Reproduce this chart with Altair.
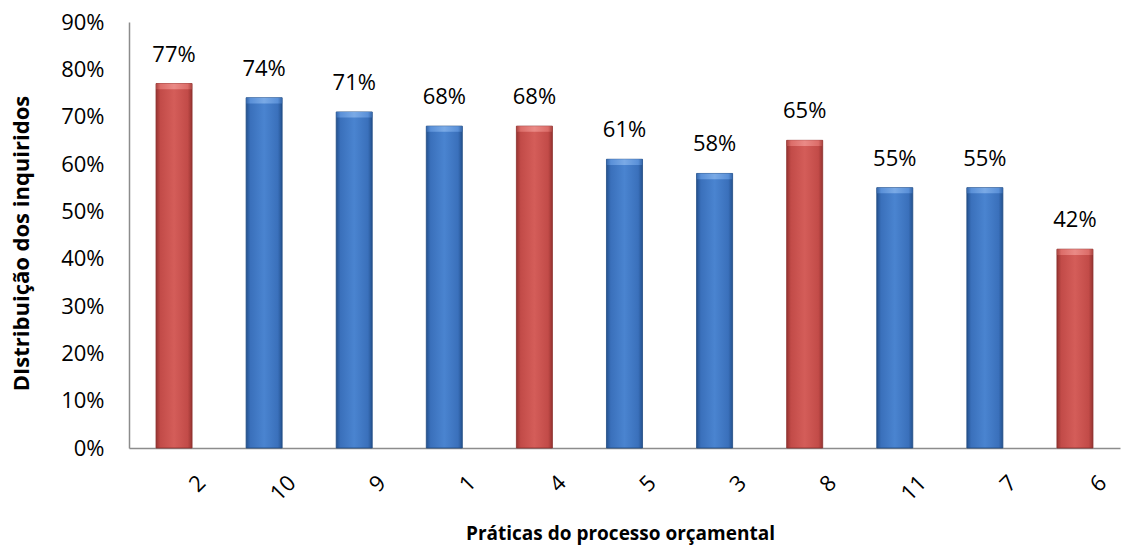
import altair as alt
import pandas as pd

# Budget-process practices, ordered as shown on the category axis
practices = ["2", "10", "9", "1", "4", "5", "3", "8", "11", "7", "6"]
shares = [77, 74, 71, 68, 68, 61, 58, 65, 55, 55, 42]
groups = ["red", "blue", "blue", "blue", "red", "blue", "blue", "red", "blue", "blue", "red"]

df = pd.DataFrame({
    "pratica": practices,
    "valor": [v / 100 for v in shares],
    "grupo": groups,
    "rotulo": [f"{v}%" for v in shares],
})

FONT = "Open Sans"
NUM_SIZE = 22


def cylinder(dark, mid, light):
    return alt.Gradient(
        gradient="linear",
        x1=0, x2=1, y1=0, y2=0,
        stops=[
            alt.GradientStop(offset=0.0, color=dark),
            alt.GradientStop(offset=0.12, color=mid),
            alt.GradientStop(offset=0.5, color=light),
            alt.GradientStop(offset=0.88, color=mid),
            alt.GradientStop(offset=1.0, color=dark),
        ],
    )


blue_fill = cylinder("#24528f", "#3a70bb", "#4a84d0")
red_fill = cylinder("#973431", "#c24b48", "#d45d59")
blue_cap = cylinder("#3566a8", "#5a90d8", "#7aaae6")
red_cap = cylinder("#a94440", "#dc6d69", "#ea8a86")

x_enc = alt.X(
    "pratica:N",
    sort=practices,
    scale=alt.Scale(paddingInner=0.6, paddingOuter=0.3),
    axis=alt.Axis(
        title="Práticas do processo orçamental",
        titleFont=FONT, titleFontSize=19, titleFontWeight="bold", titleColor="#000",
        titlePadding=20, titleX=491,
        labelFont=FONT, labelFontSize=NUM_SIZE, labelColor="#000",
        labelAngle=315, labelAlign="right", labelBaseline="middle",
        labelPadding=31, labelOffset=28,
        ticks=False, domainColor="#8c8c8c", domainWidth=1.5, grid=False,
    ),
)

y_enc = alt.Y(
    "valor:Q",
    scale=alt.Scale(domain=[0, 0.9], nice=False),
    axis=alt.Axis(
        title="DIstribuição dos inquiridos",
        titleFont=FONT, titleFontSize=22, titleFontWeight="bold", titleColor="#000",
        titleX=-96, titleY=221,
        labelFont=FONT, labelFontSize=NUM_SIZE, labelColor="#000",
        format=".0%", values=[i / 10 for i in range(10)],
        ticks=False, labelPadding=25,
        domainColor="#8c8c8c", domainWidth=1.5, grid=False,
    ),
)

base = alt.Chart(df).encode(x=x_enc, y=y_enc)

blue = base.transform_filter(alt.datum.grupo == "blue")
red = base.transform_filter(alt.datum.grupo == "red")

blue_bars = blue.mark_bar(color=blue_fill, stroke="#1f4a82", strokeWidth=0.8)
red_bars = red.mark_bar(color=red_fill, stroke="#8a2f2c", strokeWidth=0.8)

# lighter bevel across the top of each bar
cap_y2 = alt.Y2("cap_bottom:Q")
blue_caps = (
    blue.transform_calculate(cap_bottom="datum.valor - 0.012")
    .mark_bar(color=blue_cap)
    .encode(y2=cap_y2)
)
red_caps = (
    red.transform_calculate(cap_bottom="datum.valor - 0.012")
    .mark_bar(color=red_cap)
    .encode(y2=cap_y2)
)

labels = base.mark_text(
    dy=-17, font=FONT, fontSize=NUM_SIZE, color="#000", baseline="bottom"
).encode(text="rotulo:N")

chart = (
    alt.layer(blue_bars, red_bars, blue_caps, red_caps, labels)
    .properties(
        width=991,
        height=426,
        autosize=alt.AutoSizeParams(type="none"),
        padding={"left": 129, "top": 22, "right": 1, "bottom": 98},
        background="white",
    )
    .configure_view(stroke=None)
)

chart.save("out.html", embed_options={"renderer": "svg", "actions": False})
